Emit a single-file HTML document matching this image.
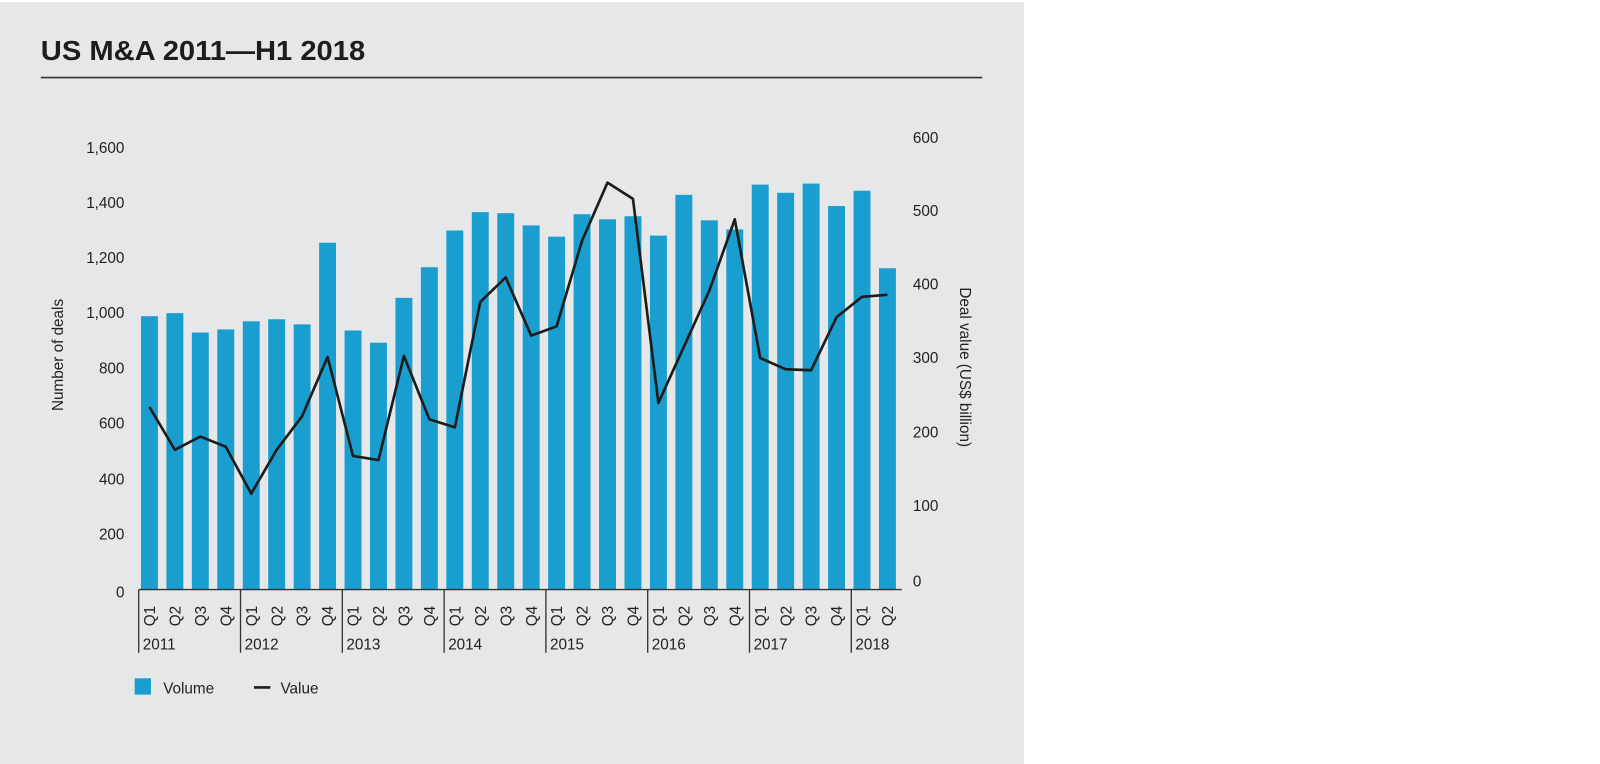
<!DOCTYPE html>
<html><head><meta charset="utf-8"><style>
html,body{margin:0;padding:0;background:#fff;}
svg{display:block;font-family:"Liberation Sans",Arial,sans-serif;}
</style></head><body>
<svg width="1600" height="764" viewBox="0 0 1600 764" xmlns="http://www.w3.org/2000/svg">
<rect x="0" y="2" width="1024" height="762" fill="#e6e7e9"/>
<g transform="scale(1.02)">
<text x="40" y="59" font-size="27" font-weight="bold" fill="#1d1d1b" textLength="318" lengthAdjust="spacingAndGlyphs">US M&amp;A 2011—H1 2018</text>
<line x1="40" y1="76" x2="963" y2="76" stroke="#333" stroke-width="1.6"/>
<g font-size="15" fill="#222" text-anchor="end">
<text x="122" y="150">1,600</text><text x="122" y="204">1,400</text><text x="122" y="258">1,200</text>
<text x="122" y="312">1,000</text><text x="122" y="366">800</text><text x="122" y="420">600</text>
<text x="122" y="475">400</text><text x="122" y="529">200</text><text x="122" y="586">0</text>
</g>
<g font-size="15" fill="#222" text-anchor="start">
<text x="895" y="140">600</text><text x="895" y="212">500</text><text x="895" y="284">400</text>
<text x="895" y="356">300</text><text x="895" y="429">200</text><text x="895" y="501">100</text><text x="895" y="575">0</text>
</g>
<text transform="translate(62,348) rotate(-90)" font-size="15" fill="#222" text-anchor="middle">Number of deals</text>
<text transform="translate(941,360) rotate(90)" font-size="15" fill="#222" text-anchor="middle">Deal value (US$ billion)</text>
<g fill="#1a9dcf" id="bars"></g>
<polyline id="line" fill="none" stroke="#1d1d1b" stroke-width="2.6" stroke-linejoin="round"/>
<line x1="136" y1="578" x2="884" y2="578" stroke="#333" stroke-width="1.3"/>
<g id="xl" font-size="15" fill="#222"></g>
<rect x="132" y="665" width="16" height="16" fill="#1a9dcf"/>
<text x="160" y="680" font-size="15" fill="#222">Volume</text>
<line x1="249" y1="674" x2="265" y2="674" stroke="#1d1d1b" stroke-width="2.6"/>
<text x="275" y="680" font-size="15" fill="#222">Value</text>
</g>
</svg>
<script>
var tops=[310,307,326,323,315,313,318,238,324,336,292,262,226,208,209,221,232,210,215,212,231,191,216,225,181,189,180,202,187,263];
var vy=[399,441,428,438,484,441,408,350,447,451,349,411,419,296,272,329,320,236,179,195,395,340,285,215,351,362,363,311,291,289];
var ns="http://www.w3.org/2000/svg",b=document.getElementById('bars'),xl=document.getElementById('xl'),pts=[];
for(var i=0;i<30;i++){var c=146.5+24.95*i;
var r=document.createElementNS(ns,'rect');r.setAttribute('x',c-8.3);r.setAttribute('y',tops[i]);r.setAttribute('width',16.6);r.setAttribute('height',578-tops[i]);b.appendChild(r);
pts.push(c+','+vy[i]);
var t=document.createElementNS(ns,'text');t.setAttribute('transform','translate('+(c+5.5)+',604) rotate(-90)');t.setAttribute('text-anchor','middle');t.textContent='Q'+(i%4+1);xl.appendChild(t);
}
document.getElementById('line').setAttribute('points',pts.join(' '));
for(var k=0;k<8;k++){var x=136+99.8*k;var l=document.createElementNS(ns,'line');l.setAttribute('x1',x);l.setAttribute('x2',x);l.setAttribute('y1',578);l.setAttribute('y2',640);l.setAttribute('stroke','#333');l.setAttribute('stroke-width','1.3');xl.appendChild(l);
var t=document.createElementNS(ns,'text');t.setAttribute('x',x+4);t.setAttribute('y',637);t.setAttribute('font-size','15');t.textContent=2011+k;xl.appendChild(t);}
</script>
</body></html>
